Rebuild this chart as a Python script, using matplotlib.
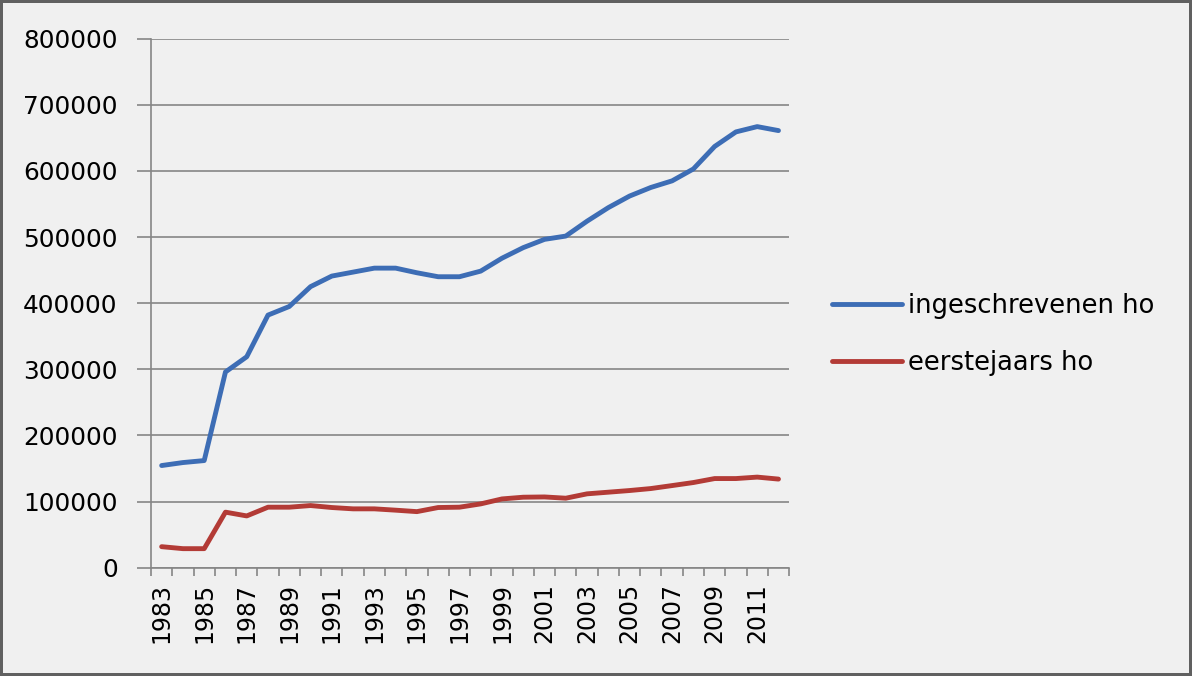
import numpy as np
import matplotlib
matplotlib.use('Agg')
import matplotlib.pyplot as plt
from matplotlib.ticker import FixedLocator

years = list(range(1983, 2013))
ingeschrevenen = [154500, 159000, 162000, 296000, 319000, 382000, 395000, 425000, 441000, 447000,
                  453000, 453000, 446000, 440000, 440000, 448500, 468000, 484000, 496500, 501500,
                  524000, 544500, 562000, 575000, 585000, 603000, 637000, 659000, 667000, 661000]
eerstejaars = [31800, 28800, 28800, 84000, 78300, 91500, 91500, 94000, 91000, 89000,
               89000, 87000, 84800, 91000, 91500, 96500, 104000, 106600, 107000, 105100,
               111700, 114200, 116700, 119700, 124200, 128800, 134800, 134800, 137000, 134000]
labels = ['ingeschrevenen ho', 'eerstejaars ho']

bg = '#f0f0f0'
grid_c = '#868686'
fig = plt.figure(figsize=(11.92, 6.76), dpi=100)
fig.patch.set_facecolor(bg)
fig.patch.set_edgecolor('#606060')
fig.patch.set_linewidth(4)
ax = fig.add_axes([0.1267, 0.1602, 0.5353, 0.7826])
ax.set_facecolor(bg)

x = np.arange(len(years))
ax.plot(x, ingeschrevenen, color='#3d6db5', lw=3.5, label=labels[0], solid_capstyle='round')
ax.plot(x, eerstejaars, color='#b33b36', lw=3.5, label=labels[1], solid_capstyle='round')

ax.set_xlim(-0.5, len(years) - 0.5)
ax.set_ylim(0, 800000)
ax.set_yticks(range(0, 800001, 100000))
ax.set_yticklabels([str(v) for v in range(0, 800001, 100000)], fontsize=17.8)
ax.yaxis.grid(True, color=grid_c, lw=1.2)
ax.set_axisbelow(True)

ax.set_xticks(x[::2])
ax.set_xticklabels([str(y) for y in years[::2]], rotation=90, fontsize=17)
ax.xaxis.set_minor_locator(FixedLocator(np.arange(-0.5, len(years), 1)))
ax.tick_params(axis='x', which='major', length=0, pad=11)
ax.tick_params(axis='x', which='minor', length=6, color=grid_c, width=1.2)
ax.tick_params(axis='y', length=10, color=grid_c, width=1.2, pad=14)

for s in ['top', 'right']:
    ax.spines[s].set_visible(False)
for s in ['left', 'bottom']:
    ax.spines[s].set_color(grid_c)
    ax.spines[s].set_linewidth(1.2)

fig.legend(loc='center left', bbox_to_anchor=(0.679, 0.505), frameon=False,
           fontsize=18.5, handlelength=2.7, handletextpad=0.25, labelspacing=1.2)

fig.savefig('out.png', dpi=100, facecolor=fig.get_facecolor(), edgecolor=fig.get_edgecolor())
